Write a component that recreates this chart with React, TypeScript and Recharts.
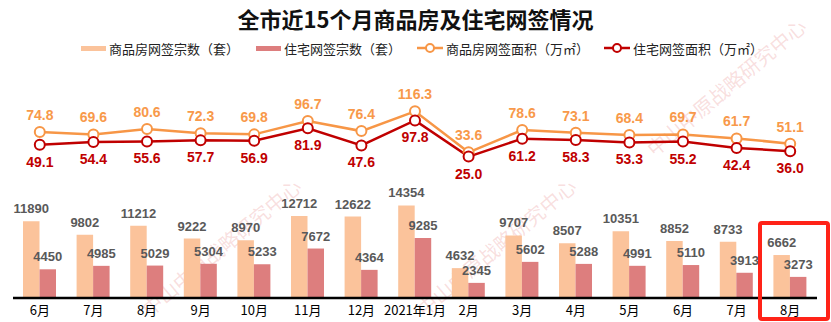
import { Bar, ComposedChart, LabelList, Line, XAxis, YAxis } from "recharts";

// 全市近15个月商品房及住宅网签情况

const periods = [
  "2020-06", "2020-07", "2020-08", "2020-09", "2020-10", "2020-11", "2020-12",
  "2021-01", "2021-02", "2021-03", "2021-04", "2021-05", "2021-06", "2021-07", "2021-08",
];
const monthLabels = [
  "6月", "7月", "8月", "9月", "10月", "11月", "12月",
  "2021年1月", "2月", "3月", "4月", "5月", "6月", "7月", "8月",
];
const commercialUnits = [11890, 9802, 11212, 9222, 8970, 12712, 12622, 14354, 4632, 9707, 8507, 10351, 8852, 8733, 6662];
const residentialUnits = [4450, 4985, 5029, 5304, 5233, 7672, 4364, 9285, 2345, 5602, 5288, 4991, 5110, 3913, 3273];
const commercialArea = [74.8, 69.6, 80.6, 72.3, 69.8, 96.7, 76.4, 116.3, 33.6, 78.6, 73.1, 68.4, 69.7, 61.7, 51.1];
const residentialArea = [49.1, 54.4, 55.6, 57.7, 56.9, 81.9, 47.6, 97.8, 25.0, 61.2, 58.3, 53.3, 55.2, 42.4, 36.0];

const FONT = "'Liberation Sans', 'Noto Sans CJK SC', sans-serif";
const CJK = "'Noto Sans CJK SC', sans-serif";

const C_BAR1 = "#FBC39B";
const C_BAR2 = "#DD7E7E";
const C_LINE1 = "#F79646";
const C_LINE2 = "#C00000";

const chartData = periods.map((p, i) => ({
  period: p,
  label: monthLabels[i],
  commercialUnits: commercialUnits[i],
  residentialUnits: residentialUnits[i],
  commercialArea: commercialArea[i],
  residentialArea: residentialArea[i],
}));

const labelOf = (p: string) => monthLabels[periods.indexOf(p)] ?? p;

// 水印
const watermarks = [
  { x: 135, y: 300 },
  { x: 410, y: 300 },
  { x: 640, y: 140 },
];

function LegendItem({ type, color, text, left }: { type: "bar" | "line"; color: string; text: string; left: number }) {
  return (
    <div style={{ position: "absolute", left, top: 40, height: 16, display: "flex", alignItems: "center" }}>
      {type === "bar" ? (
        <div style={{ width: 25, height: 5, background: color, marginRight: 3 }} />
      ) : (
        <svg width={26} height={12} style={{ marginRight: 3 }}>
          <line x1={0} y1={6} x2={26} y2={6} stroke={color} strokeWidth={2.5} />
          <circle cx={13} cy={6} r={4} fill="#fff" stroke={color} strokeWidth={2} />
        </svg>
      )}
      <span style={{ fontFamily: CJK, fontSize: 13, color: "#222", whiteSpace: "nowrap" }}>{text}</span>
    </div>
  );
}

export default function App() {
  return (
    <div style={{ position: "relative", width: 831, height: 322, background: "#fff", overflow: "hidden" }}>
      <style>{`body{margin:0}`}</style>
      {watermarks.map((w, i) => (
        <div
          key={`wm-${i}`}
          style={{
            position: "absolute",
            left: w.x,
            top: w.y,
            transform: "rotate(-40deg)",
            transformOrigin: "left top",
            fontFamily: CJK,
            fontSize: 20,
            color: "rgba(225, 110, 110, 0.22)",
            whiteSpace: "nowrap",
            pointerEvents: "none",
          }}
        >
          中山中原战略研究中心
        </div>
      ))}
      <div
        style={{
          position: "absolute",
          left: 0,
          top: 2,
          width: 831,
          textAlign: "center",
          fontFamily: CJK,
          fontWeight: 700,
          fontSize: 22,
          color: "#111",
        }}
      >
        全市近15个月商品房及住宅网签情况
      </div>
      <LegendItem type="bar" color={C_BAR1} text="商品房网签宗数（套）" left={81} />
      <LegendItem type="bar" color={C_BAR2} text="住宅网签宗数（套）" left={256} />
      <LegendItem type="line" color={C_LINE1} text="商品房网签面积（万㎡）" left={417} />
      <LegendItem type="line" color={C_LINE2} text="住宅网签面积（万㎡）" left={604} />

      <div style={{ position: "absolute", left: 0, top: 0 }}>
        <ComposedChart
          width={831}
          height={322}
          data={chartData}
          margin={{ top: 40, right: 14, bottom: 0, left: 13 }}
          barGap={0}
        >
          <XAxis
            dataKey="period"
            height={24}
            tickLine={false}
            axisLine={{ stroke: "#000", strokeWidth: 2.5 }}
            tickFormatter={labelOf}
            interval={0}
            tick={{ fontSize: 13, fill: "#000", fontFamily: CJK }}
          />
          <YAxis yAxisId="units" hide domain={[0, 40000]} />
          <YAxis yAxisId="area" hide domain={[-260, 260]} />
          <Bar yAxisId="units" dataKey="commercialUnits" fill={C_BAR1} barSize={16.5} isAnimationActive={false}>
            <LabelList
              dataKey="commercialUnits"
              position="top"
              offset={8}
              style={{ fontSize: 13, fontWeight: 700, fill: "#595959", fontFamily: FONT }}
            />
          </Bar>
          <Bar yAxisId="units" dataKey="residentialUnits" fill={C_BAR2} barSize={16.5} isAnimationActive={false}>
            <LabelList
              dataKey="residentialUnits"
              position="top"
              offset={8}
              style={{ fontSize: 13, fontWeight: 700, fill: "#595959", fontFamily: FONT }}
            />
          </Bar>
          <Line
            yAxisId="area"
            dataKey="commercialArea"
            stroke={C_LINE1}
            strokeWidth={2.5}
            dot={{ r: 5, fill: "#fff", stroke: C_LINE1, strokeWidth: 2 }}
            isAnimationActive={false}
          >
            <LabelList
              dataKey="commercialArea"
              position="top"
              offset={12}
              formatter={(v: any) => Number(v).toFixed(1)}
              style={{ fontSize: 14, fontWeight: 700, fill: "#F8994A", fontFamily: FONT }}
            />
          </Line>
          <Line
            yAxisId="area"
            dataKey="residentialArea"
            stroke={C_LINE2}
            strokeWidth={2.5}
            dot={{ r: 5, fill: "#fff", stroke: C_LINE2, strokeWidth: 2 }}
            isAnimationActive={false}
          >
            <LabelList
              dataKey="residentialArea"
              position="bottom"
              offset={12}
              formatter={(v: any) => Number(v).toFixed(1)}
              style={{ fontSize: 14, fontWeight: 700, fill: C_LINE2, fontFamily: FONT }}
            />
          </Line>
        </ComposedChart>
      </div>

      {/* 当月高亮框 */}
      <div
        style={{
          position: "absolute",
          left: 758,
          top: 221,
          width: 72 - 8,
          height: 100 - 8,
          border: "4px solid #FF2318",
          borderRadius: 4,
          pointerEvents: "none",
        }}
      />
    </div>
  );
}
